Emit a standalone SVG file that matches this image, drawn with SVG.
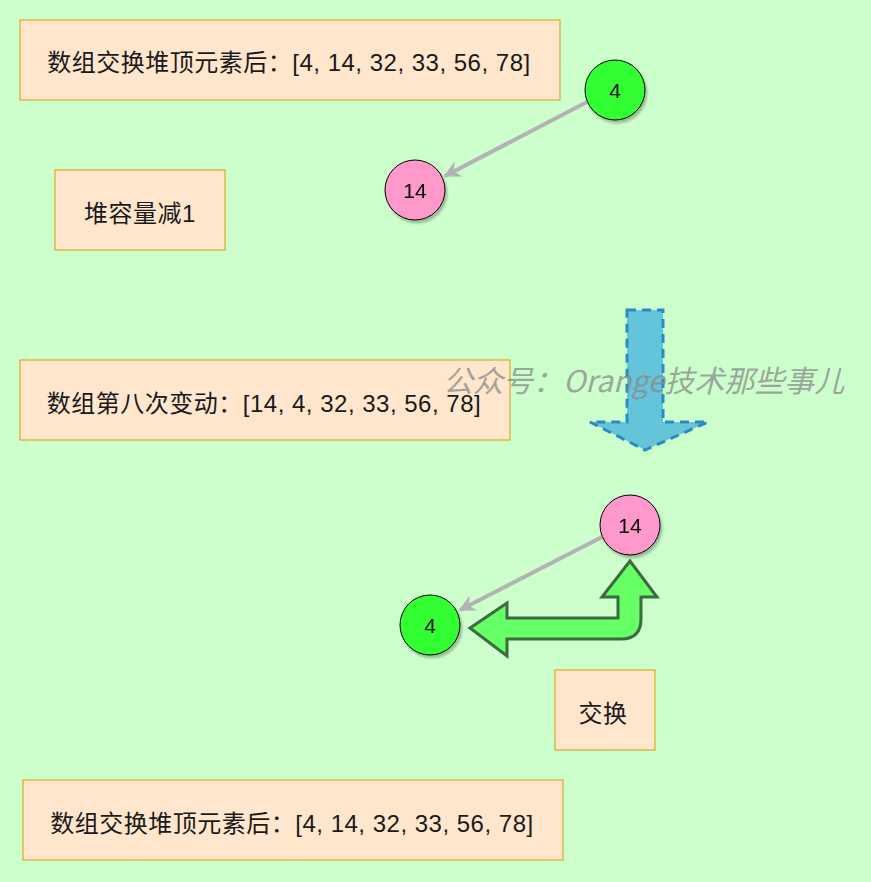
<svg xmlns="http://www.w3.org/2000/svg" width="871" height="882" viewBox="0 0 871 882">
<style>
.box{fill:#FFE6CC;stroke:#D79B00;stroke-width:1}
.t{font-family:"Liberation Sans","Noto Sans CJK SC",sans-serif;font-size:24px;letter-spacing:0.5px;fill:#1a1a1a;text-anchor:middle;dominant-baseline:central}
.ct{font-family:"Liberation Sans","Noto Sans CJK SC",sans-serif;font-size:21px;fill:#000;text-anchor:middle;dominant-baseline:central}
.green{fill:#33FF33;stroke:#000;stroke-width:1}
.pink{fill:#FF99CC;stroke:#000;stroke-width:1}
.edge{fill:none;stroke:#B3B3B3;stroke-width:4}
.wm{font-family:"Noto Sans CJK SC","Liberation Sans",sans-serif;font-size:30px;font-style:italic;fill:#8a8a8a;fill-opacity:0.75}
</style>
<defs>
<filter id="sh" x="-30%" y="-30%" width="160%" height="160%">
<feDropShadow dx="2" dy="3" stdDeviation="1.2" flood-color="#000" flood-opacity="0.25"/>
</filter>
<marker id="ar" viewBox="0 0 10 10" refX="9" refY="5" markerWidth="4.2" markerHeight="4.2" orient="auto" markerUnits="strokeWidth">
<path d="M0,0 L10,5 L0,10 L3,5 Z" fill="#B3B3B3"/>
</marker>
</defs>
<rect width="871" height="882" fill="#CCFFCC"/>

<g id="box1"><rect class="box" x="20" y="20" width="540" height="80"/><text class="t" x="289" y="62">数组交换堆顶元素后：[4, 14, 32, 33, 56, 78]</text></g>
<g id="box2"><rect class="box" x="55" y="170" width="170" height="80"/><text class="t" x="140" y="213">堆容量减1</text></g>
<g id="box3"><rect class="box" x="20" y="360" width="490" height="80"/><text class="t" x="264" y="403">数组第八次变动：[14, 4, 32, 33, 56, 78]</text></g>
<g id="box4"><rect class="box" x="555" y="670" width="100" height="80"/><text class="t" x="603" y="713">交换</text></g>
<g id="box5"><rect class="box" x="23" y="780" width="540" height="80"/><text class="t" x="292" y="823">数组交换堆顶元素后：[4, 14, 32, 33, 56, 78]</text></g>

<g id="connectors">
<line class="edge" x1="587" y1="102" x2="445" y2="176" marker-end="url(#ar)"/>
<line class="edge" x1="602" y1="537" x2="460" y2="610" marker-end="url(#ar)"/>
</g>

<g id="n4a" filter="url(#sh)"><circle class="green" cx="615" cy="90" r="30"/><text class="ct" x="615" y="90">4</text></g>
<g id="n14a" filter="url(#sh)"><circle class="pink" cx="415" cy="190" r="30"/><text class="ct" x="415" y="190">14</text></g>
<g id="n14b" filter="url(#sh)"><circle class="pink" cx="630" cy="525" r="30"/><text class="ct" x="630" y="525">14</text></g>
<g id="n4b" filter="url(#sh)"><circle class="green" cx="430" cy="625" r="30"/><text class="ct" x="430" y="625">4</text></g>

<g id="downArrow">
<path d="M627,310 L663,310 L663,422 L708,422 L645,450 L590,422 L627,422 Z" fill="#64C4DA" stroke="#2B8CC0" stroke-width="3" stroke-dasharray="9,6"/>
</g>

<g id="swapArrow">
<path d="M470,628 L507,603 L507,618 L618,618 L618,597 L602,597 L630,561 L657,597 L641,597 L641,619 Q641,639 621,639 L507,639 L507,656 Z" fill="#66FF66" stroke="#3D6B3D" stroke-width="3" stroke-linejoin="miter"/>
</g>

<text class="wm" x="443" y="392">公众号：Orange技术那些事儿</text>
</svg>
